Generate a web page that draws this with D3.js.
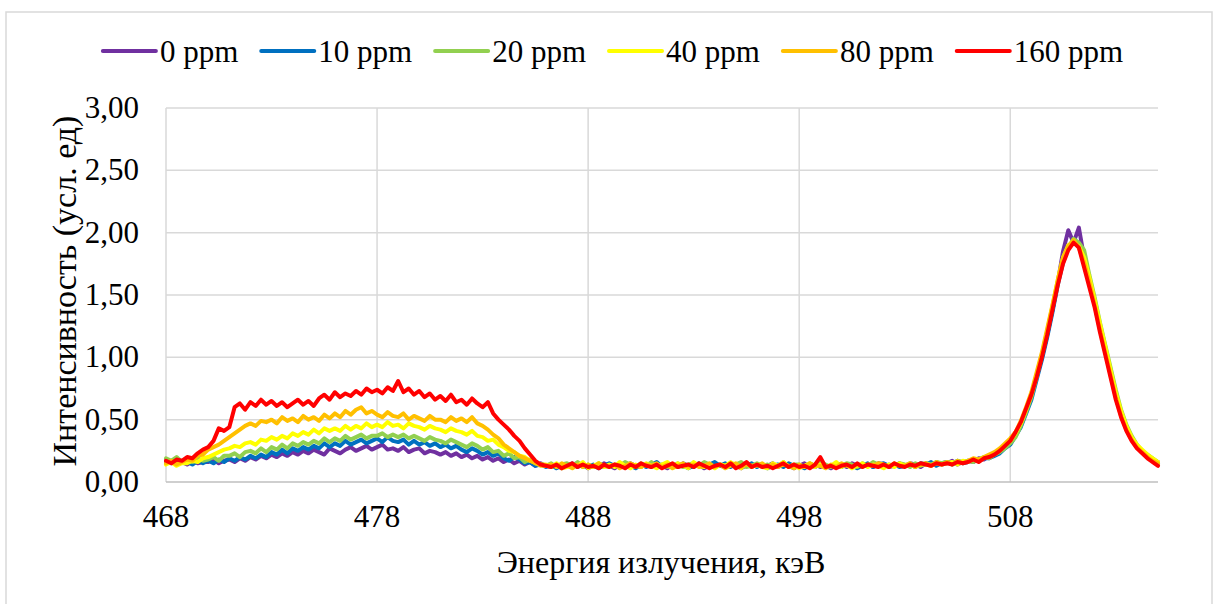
<!DOCTYPE html>
<html>
<head>
<meta charset="utf-8">
<script src="https://cdn.jsdelivr.net/npm/d3@7"></script>
</head>
<body style="margin:0">
<svg id="chart" width="1218" height="604" font-family="Liberation Serif"></svg>
<script>
// Energy axis: first channel and step between channels (keV)
var energyStart = 468;
var energyStep = 0.25;

var seriesNames = ["0 ppm", "10 ppm", "20 ppm", "40 ppm", "80 ppm", "160 ppm"];
var seriesColors = ["#7030a0", "#0070c0", "#92d050", "#ffff00", "#ffc000", "#ff0000"];

var xTicks = [468, 478, 488, 498, 508];
var yTicks = [0, 0.5, 1, 1.5, 2, 2.5, 3];

// Intensities, 4 channels per keV, 468 .. 515 keV
var ppm0 = [
  .17,.15,.18,.16, .14,.17,.15,.16, .16,.18,.15,.17, .18,.16,.19,.17, .20,.18,.21,.19,
  .22,.20,.23,.21, .24,.22,.25,.23, .26,.24,.22,.27, .25,.23,.26,.28, .25,.27,.29,.26,
  .28,.30,.26,.27, .25,.28,.24,.26, .27,.23,.25,.24, .22,.24,.21,.23, .20,.22,.19,.21,
  .18,.20,.17,.19, .16,.18,.15,.17, .14,.16,.13,.15, .13,.12,.14,.11, .13,.15,.12,.14,
  .11,.13,.12,.15, .13,.11,.14,.12, .15,.13,.12,.14, .12,.14,.13,.11, .14,.12,.15,.13,
  .12,.14,.11,.13, .15,.13,.12,.14, .13,.11,.14,.12, .14,.12,.13,.15, .12,.14,.13,.11,
  .13,.15,.12,.14, .12,.13,.11,.14, .14,.12,.15,.13, .13,.14,.12,.15, .14,.12,.13,.15,
  .13,.15,.14,.12, .15,.13,.16,.14, .15,.17,.14,.16, .17,.16,.19,.18, .21,.22,.24,.28,
  .32,.38,.47,.57, .70,.85,1.00,1.18, 1.38,1.60,1.85,2.02, 1.92,2.04,1.80,1.62,
  1.44,1.24,1.06,.88, .70,.55,.43,.35, .28,.24,.21,.18, .16
];
var ppm10 = [
  .15,.17,.14,.16, .16,.14,.17,.15, .17,.15,.18,.16, .19,.17,.20,.18, .21,.19,.22,.20,
  .24,.22,.26,.23, .27,.25,.28,.26, .29,.27,.31,.28, .31,.29,.33,.30, .32,.34,.31,.33,
  .35,.32,.36,.33, .32,.34,.30,.33, .30,.32,.29,.31, .28,.30,.27,.29, .26,.24,.27,.25,
  .22,.24,.21,.23, .19,.17,.20,.18, .15,.16,.13,.14, .12,.14,.11,.13, .14,.12,.15,.13,
  .12,.14,.11,.13, .15,.13,.12,.14, .13,.11,.14,.12, .14,.16,.12,.13, .12,.14,.13,.11,
  .13,.15,.12,.14, .16,.13,.15,.12, .14,.12,.13,.15, .12,.14,.11,.13, .14,.12,.15,.13,
  .13,.11,.14,.12, .15,.13,.12,.14, .12,.14,.13,.11, .13,.15,.12,.14, .15,.13,.14,.12,
  .13,.14,.12,.15, .14,.16,.13,.15, .16,.14,.17,.15, .16,.18,.17,.19, .19,.21,.23,.27,
  .30,.37,.44,.55, .66,.82,.98,1.16, 1.36,1.58,1.76,1.88, 1.93,1.90,1.76,1.60,
  1.44,1.24,1.06,.88, .70,.56,.44,.36, .29,.25,.21,.18, .15
];
var ppm20 = [
  .19,.17,.20,.16, .18,.16,.19,.17, .18,.20,.17,.21, .21,.23,.20,.24, .25,.23,.27,.24,
  .28,.26,.30,.27, .31,.29,.32,.30, .33,.31,.35,.32, .35,.33,.37,.34, .36,.38,.35,.37,
  .37,.39,.36,.38, .36,.38,.35,.37, .35,.33,.36,.34, .33,.31,.34,.32, .30,.28,.31,.29,
  .26,.28,.24,.25, .21,.23,.19,.20, .16,.18,.15,.14, .13,.15,.12,.14, .15,.13,.16,.12,
  .14,.12,.15,.13, .12,.14,.13,.16, .14,.12,.15,.13, .16,.13,.14,.12, .13,.15,.12,.14,
  .15,.13,.16,.14, .12,.14,.13,.15, .14,.16,.12,.13, .15,.13,.14,.12, .13,.16,.12,.14,
  .14,.12,.15,.13, .16,.14,.12,.15, .13,.15,.14,.12, .15,.13,.16,.14, .12,.14,.13,.15,
  .14,.12,.15,.13, .15,.14,.16,.15, .16,.15,.17,.16, .17,.16,.18,.20, .19,.22,.24,.27,
  .31,.36,.45,.56, .68,.84,1.02,1.20, 1.40,1.60,1.78,1.88, 1.95,1.92,1.86,1.66,
  1.48,1.28,1.10,.92, .74,.58,.46,.37, .30,.25,.22,.19, .16
];
var ppm40 = [
  .14,.16,.13,.15, .15,.17,.16,.19, .20,.22,.24,.26, .27,.29,.28,.31, .32,.30,.34,.33,
  .36,.34,.37,.35, .39,.37,.40,.38, .42,.39,.43,.41, .43,.41,.45,.42, .45,.43,.47,.44,
  .46,.44,.48,.45, .46,.43,.47,.45, .44,.42,.45,.43, .42,.40,.43,.41, .40,.38,.41,.37,
  .36,.33,.34,.30, .28,.25,.24,.21, .20,.17,.16,.14, .14,.12,.15,.11, .12,.14,.13,.16,
  .11,.13,.15,.12, .14,.12,.16,.13, .11,.14,.12,.15, .13,.11,.14,.16, .12,.15,.13,.11,
  .16,.13,.12,.14, .11,.14,.13,.16, .13,.11,.15,.12, .14,.12,.11,.15, .13,.16,.12,.14,
  .11,.13,.15,.12, .14,.12,.13,.16, .12,.14,.11,.13, .15,.12,.14,.13, .11,.14,.12,.15,
  .13,.15,.12,.14, .14,.13,.15,.14, .15,.16,.14,.17, .16,.18,.17,.19, .21,.23,.26,.30,
  .33,.39,.47,.58, .70,.86,1.02,1.21, 1.41,1.62,1.80,1.90, 1.92,1.89,1.80,1.64,
  1.46,1.27,1.09,.90, .72,.57,.45,.36, .30,.26,.22,.19, .16
];
var ppm80 = [
  .15,.17,.14,.16, .18,.17,.21,.22, .26,.28,.30,.33, .36,.39,.42,.45, .47,.45,.49,.48,
  .50,.47,.52,.49, .51,.48,.53,.50, .52,.49,.54,.51, .55,.52,.57,.54, .58,.60,.55,.57,
  .54,.52,.56,.53, .52,.55,.50,.53, .51,.49,.53,.50, .50,.48,.52,.49, .51,.48,.52,.47,
  .45,.42,.38,.35, .30,.27,.24,.21, .19,.17,.15,.13, .13,.14,.12,.15, .13,.11,.14,.12,
  .14,.12,.15,.13, .12,.14,.11,.13, .15,.13,.12,.14, .13,.15,.12,.14, .11,.13,.15,.12,
  .14,.12,.13,.15, .12,.14,.11,.13, .15,.12,.14,.13, .13,.15,.12,.14, .12,.14,.13,.11,
  .14,.12,.15,.13, .13,.11,.14,.12, .15,.13,.12,.14, .12,.14,.13,.15, .14,.12,.15,.13,
  .13,.15,.12,.14, .15,.13,.16,.14, .16,.14,.17,.15, .17,.19,.18,.20, .22,.24,.27,.31,
  .35,.40,.49,.60, .72,.88,1.04,1.23, 1.42,1.62,1.80,1.89, 1.94,1.88,1.76,1.60,
  1.42,1.22,1.04,.86, .68,.53,.42,.34, .28,.24,.20,.17, .15
];
var ppm160 = [
  .17,.15,.18,.17, .20,.19,.23,.26, .28,.33,.43,.41, .44,.60,.63,.58, .64,.61,.66,.62,
  .65,.61,.64,.60, .63,.66,.62,.65, .61,.67,.70,.66, .72,.68,.71,.69, .73,.70,.75,.72,
  .74,.71,.76,.73, .81,.72,.75,.70, .73,.68,.71,.66, .69,.65,.70,.64, .66,.62,.67,.63,
  .60,.64,.55,.50, .46,.42,.37,.33, .27,.22,.17,.14, .13,.12,.14,.11, .13,.15,.12,.14,
  .12,.13,.11,.14, .12,.14,.13,.11, .14,.12,.15,.13, .12,.14,.11,.13, .15,.12,.13,.14,
  .12,.15,.13,.11, .13,.14,.12,.15, .11,.13,.16,.12, .14,.12,.13,.11, .13,.15,.12,.14,
  .12,.13,.11,.14, .20,.12,.13,.11, .13,.14,.12,.15, .12,.14,.13,.12, .14,.12,.15,.13,
  .12,.14,.13,.15, .14,.13,.15,.14, .15,.14,.16,.15, .16,.18,.16,.19, .20,.22,.25,.29,
  .33,.40,.48,.59, .70,.84,1.00,1.18, 1.38,1.58,1.75,1.86, 1.92,1.88,1.72,1.56,
  1.40,1.20,1.02,.84, .66,.52,.41,.33, .27,.23,.19,.16, .13
];
var seriesValues = [ppm0, ppm10, ppm20, ppm40, ppm80, ppm160];

var serif = "Liberation Serif";

var svg = d3.select("#chart");

// Outer chart frame
svg.append("rect")
  .attr("x", 6).attr("y", 12)
  .attr("width", 1206).attr("height", 640)
  .attr("fill", "#fff")
  .attr("stroke", "#d9d9d9")
  .attr("stroke-width", 1.5);

var x = d3.scaleLinear().domain([468, 515]).range([166, 1158]);
var y = d3.scaleLinear().domain([0, 3]).range([482, 108]);

// Horizontal gridlines
svg.append("g").selectAll("line")
  .data(yTicks.filter(function(d) { return d > 0; }))
  .enter().append("line")
  .attr("x1", x(468)).attr("x2", x(515))
  .attr("y1", function(d) { return y(d); })
  .attr("y2", function(d) { return y(d); })
  .attr("stroke", "#d9d9d9").attr("stroke-width", 1.5);

// Vertical gridlines (also the left edge)
svg.append("g").selectAll("line")
  .data(xTicks)
  .enter().append("line")
  .attr("x1", function(d) { return x(d); })
  .attr("x2", function(d) { return x(d); })
  .attr("y1", y(3)).attr("y2", y(0))
  .attr("stroke", "#d9d9d9").attr("stroke-width", 1.5);

// Bottom axis line
svg.append("line")
  .attr("x1", x(468)).attr("x2", x(515))
  .attr("y1", y(0)).attr("y2", y(0))
  .attr("stroke", "#bfbfbf").attr("stroke-width", 1.5);

// Tick labels
var fmt = function(d) { return d3.format(".2f")(d).replace(".", ","); };
svg.append("g").selectAll("text")
  .data(yTicks)
  .enter().append("text")
  .attr("x", 139)
  .attr("y", function(d) { return y(d) + 10; })
  .attr("text-anchor", "end")
  .attr("font-family", serif)
  .attr("font-size", 31)
  .text(fmt);

svg.append("g").selectAll("text")
  .data(xTicks)
  .enter().append("text")
  .attr("x", function(d) { return x(d); })
  .attr("y", 527)
  .attr("text-anchor", "middle")
  .attr("font-family", serif)
  .attr("font-size", 31)
  .text(function(d) { return d; });

// Axis titles
svg.append("text")
  .attr("x", 661).attr("y", 573)
  .attr("text-anchor", "middle")
  .attr("font-family", serif)
  .attr("font-size", 32)
  .text("Энергия излучения, кэВ");

svg.append("text")
  .attr("transform", "translate(76,291) rotate(-90)")
  .attr("text-anchor", "middle")
  .attr("font-family", serif)
  .attr("font-size", 34)
  .text("Интенсивность (усл. ед)");

// Series lines, red drawn last so it stays on top
var line = d3.line()
  .x(function(d, i) { return x(energyStart + i * energyStep); })
  .y(function(d) { return y(d); });

svg.append("g").selectAll("path")
  .data(seriesValues)
  .enter().append("path")
  .attr("d", line)
  .attr("fill", "none")
  .attr("stroke", function(d, i) { return seriesColors[i]; })
  .attr("stroke-width", 4)
  .attr("stroke-linejoin", "round")
  .attr("stroke-linecap", "round");

// Legend, centred over the chart
var legend = svg.append("g");
var items = legend.selectAll("g")
  .data(seriesNames)
  .enter().append("g");
items.append("line")
  .attr("x1", 0).attr("x2", 53)
  .attr("y1", 0).attr("y2", 0)
  .attr("stroke", function(d, i) { return seriesColors[i]; })
  .attr("stroke-width", 4)
  .attr("stroke-linecap", "round");
items.append("text")
  .attr("x", 57).attr("y", 11)
  .attr("font-family", serif)
  .attr("font-size", 31)
  .text(function(d) { return d; });

// Measure each entry so the row can be centred
var widths = [];
items.each(function() {
  widths.push(57 + d3.select(this).select("text").node().getComputedTextLength());
});
var total = d3.sum(widths) + 23 * (widths.length - 1);
var start = 613 - total / 2;
var offset = 0;
items.attr("transform", function(d, i) {
  var tx = start + offset;
  offset += widths[i] + 23;
  return "translate(" + tx + ",51)";
});
</script>
</body>
</html>
